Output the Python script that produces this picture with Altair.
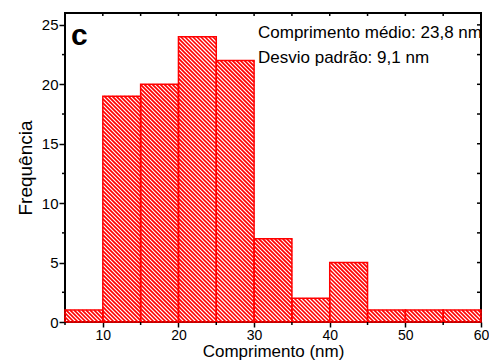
import math
import altair as alt
import pandas as pd

# ---- data ----
bin_starts = [5, 10, 15, 20, 25, 30, 35, 40, 45, 50, 55]
counts = [1, 19, 20, 24, 22, 7, 2, 5, 1, 1, 1]
bin_width = 5
x_major = [10, 20, 30, 40, 50, 60]
x_minor = [5, 15, 25, 35, 45, 55]
x_top = [5, 10, 15, 20, 25, 30, 35, 40, 45, 50, 55]
y_major = [0, 5, 10, 15, 20, 25]
y_minor = [2.5, 7.5, 12.5, 17.5, 22.5]
y_right = [2.5, 5, 7.5, 10, 12.5, 15, 17.5, 20, 22.5, 25]
note_lines = ["Comprimento médio: 23,8 nm", "Desvio padrão: 9,1 nm"]
panel_label = "c"
x_title = "Comprimento (nm)"
y_title = "Frequência"

# ---- layout ----
W, H = 416, 309
X0, X1 = 5, 60
Y0, Y1 = 0, 26
RED = "#FF0000"
FONT = "Liberation Sans, Arial"

bars = pd.DataFrame({
    "start": bin_starts,
    "end": [s + bin_width for s in bin_starts],
    "count": counts,
})

# hatch pattern (\\\) emulated with rules, computed from each bar's extent
sx = W / (X1 - X0)
sy = H / (Y1 - Y0)
step = 4.0
segs = []
for s, c in zip(bin_starts, counts):
    px0 = (s - X0) * sx
    px1 = (s + bin_width - X0) * sx
    pt = H - c * sy
    pb = H
    kmin = pt - px1
    kmax = pb - px0
    k = math.ceil(kmin / step) * step
    while k <= kmax:
        a = max(px0, pt - k)
        b = min(px1, pb - k)
        if b - a > 0.3:
            segs.append({
                "x": X0 + a / sx, "y": (H - (a + k)) / sy,
                "x2": X0 + b / sx, "y2": (H - (b + k)) / sy,
            })
        k += step
hatch_df = pd.DataFrame(segs)

xscale = alt.Scale(domain=[X0, X1], nice=False, zero=False)
yscale = alt.Scale(domain=[Y0, Y1], nice=False, zero=False)

x_axis = alt.Axis(values=x_major, title=x_title, tickSize=5, tickWidth=1.5,
                  tickColor="black", domain=False, grid=False,
                  labelFont=FONT, labelFontSize=14, labelColor="black",
                  labelPadding=1, labelFlush=False,
                  titleFont=FONT, titleFontSize=17, titleFontWeight="normal",
                  titleColor="black", titlePadding=1)
y_axis = alt.Axis(values=y_major, title=y_title, tickSize=6, tickWidth=1.5,
                  tickColor="black", domain=False, grid=False,
                  labelFont=FONT, labelFontSize=15, labelColor="black",
                  labelPadding=1, labelFlush=False,
                  titleFont=FONT, titleFontSize=19, titleFontWeight="normal",
                  titleColor="black", titlePadding=6)

hatch = alt.Chart(hatch_df).mark_rule(color=RED, strokeWidth=1.7).encode(
    x=alt.X("x:Q", scale=xscale, axis=x_axis),
    y=alt.Y("y:Q", scale=yscale, axis=y_axis),
    x2="x2:Q",
    y2="y2:Q",
)

outline = alt.Chart(bars).mark_rect(fill="transparent", stroke=RED, strokeWidth=1.5).encode(
    x=alt.X("start:Q", scale=xscale, axis=x_axis),
    x2="end:Q",
    y=alt.Y("count:Q", scale=yscale, axis=y_axis),
    y2=alt.Y2(datum=0),
)

left_minor = alt.Chart(pd.DataFrame({"v": y_minor})).mark_rule(color="black", strokeWidth=1.5).encode(
    y=alt.Y("v:Q", scale=yscale, axis=y_axis), x=alt.value(0), x2=alt.value(-3))
right_ticks = alt.Chart(pd.DataFrame({"v": y_right})).mark_rule(color="black", strokeWidth=1.5).encode(
    y=alt.Y("v:Q", scale=yscale, axis=y_axis), x=alt.value(W), x2=alt.value(W - 4))
bottom_minor = alt.Chart(pd.DataFrame({"v": x_minor})).mark_rule(color="black", strokeWidth=1.5).encode(
    x=alt.X("v:Q", scale=xscale, axis=x_axis), y=alt.value(H), y2=alt.value(H + 3))
top_ticks = alt.Chart(pd.DataFrame({"v": x_top})).mark_rule(color="black", strokeWidth=1.5).encode(
    x=alt.X("v:Q", scale=xscale, axis=x_axis), y=alt.value(0), y2=alt.value(3))

note1 = alt.Chart(pd.DataFrame({"t": [note_lines[0]]})).mark_text(
    align="left", baseline="alphabetic", font=FONT, fontSize=17, color="black"
).encode(text="t:N", x=alt.value(193), y=alt.value(25))
note2 = alt.Chart(pd.DataFrame({"t": [note_lines[1]]})).mark_text(
    align="left", baseline="alphabetic", font=FONT, fontSize=17, color="black"
).encode(text="t:N", x=alt.value(193), y=alt.value(50))

label = alt.Chart(pd.DataFrame({"t": [panel_label]})).mark_text(
    align="left", baseline="alphabetic", font=FONT, fontSize=30, fontWeight="bold", color="black"
).encode(text="t:N", x=alt.value(6), y=alt.value(32))

chart = alt.layer(
    hatch, outline, left_minor, right_ticks, bottom_minor, top_ticks, note1, note2, label
).properties(
    width=W, height=H,
    autosize=alt.AutoSizeParams(type="none"),
    padding={"left": 65, "top": 13, "right": 8, "bottom": 40},
    background="white",
).configure_view(stroke="black", strokeWidth=2)

chart.save("out.html", embed_options={"renderer": "svg", "actions": False})
